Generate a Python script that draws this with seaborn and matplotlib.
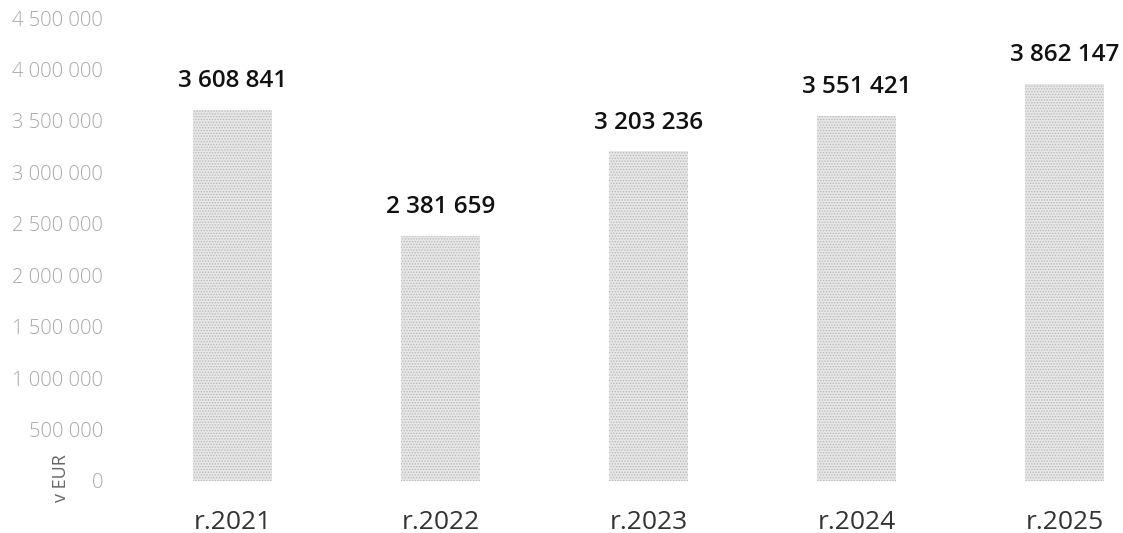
import matplotlib
matplotlib.use("Agg")
import matplotlib.pyplot as plt
import seaborn as sns
import pandas as pd

categories = ["r.2021", "r.2022", "r.2023", "r.2024", "r.2025"]
values = [3608841, 2381659, 3203236, 3551421, 3862147]
y_ticks = [0, 500000, 1000000, 1500000, 2000000, 2500000, 3000000, 3500000, 4000000, 4500000]
y_unit = "v EUR"

def fmt(v):
    return f"{v:,}".replace(",", " ")

sns.set_theme(style="white")
plt.rcParams['font.family'] = ['Open Sans', 'DejaVu Sans']
plt.rcParams['hatch.linewidth'] = 0.6

df = pd.DataFrame({"year": categories, "value": values})

fig = plt.figure(figsize=(11.23, 5.33), dpi=100)
ax = fig.add_axes([120/1123, 52/533, 1 - 120/1123, (481-18)/533])

sns.barplot(data=df, x="year", y="value", ax=ax, color="#e6e6e6",
            width=0.38, saturation=1)
for p in ax.patches:
    p.set_hatch("......")
    p.set_edgecolor("#b8b8b8")
    p.set_linewidth(0)

ax.bar_label(ax.containers[0], labels=[fmt(v) for v in values], padding=12,
             fontsize=17.5, fontweight="semibold", color="#111111")

ax.set_xlim(-0.543, 4.279)
ax.set_ylim(0, 4500000)
ax.set_yticks(y_ticks)
ax.set_yticklabels([fmt(v) for v in y_ticks], fontsize=14.5, color="#a8a8a8",
                   fontweight="light")
ax.tick_params(axis="y", pad=12, length=0)
ax.tick_params(axis="x", pad=21, length=0, labelsize=19, labelcolor="#333333")
ax.set_xlabel("")
ax.set_ylabel("")
for s in ax.spines.values():
    s.set_visible(False)

fig.text(61/1123, 1 - 478/533, y_unit, rotation=90, fontsize=13, color="#666666",
         ha="center", va="center")

fig.savefig("out.png", dpi=100, facecolor="white")
